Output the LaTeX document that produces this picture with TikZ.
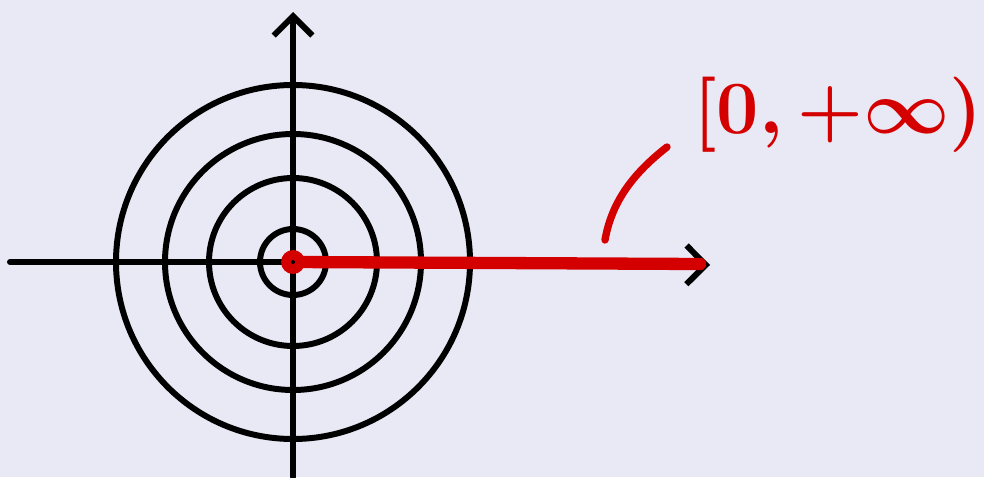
\documentclass[tikz,border=0pt]{standalone}
\usepackage{amsmath,graphicx}
\usetikzlibrary{arrows.meta,positioning,calc}
\definecolor{bg}{HTML}{E9E9F5}
\definecolor{pen}{HTML}{D40000}

\begin{document}
\begin{tikzpicture}[x=0.02cm,y=-0.02cm,line cap=round,line join=round,
  ink/.style={black,line width=3.4pt},
  barb/.style={-{Straight Barb[length=11pt,width=22pt,line width=3.4pt]}},
  redink/.style={pen,line width=4.2pt}]
\fill[bg] (0,0) rectangle (984,477);\useasboundingbox (0,0) rectangle (984,477);
\coordinate (O) at (293,262);\coordinate (xl) at (10,262);\coordinate (xr) at (710,265);
\coordinate (yb) at (293,477);\coordinate (yt) at (293,12);
% rings round the origin
\foreach \r in {33,84,128,177}{\draw[ink] (O) circle[radius=\r];}
\draw[ink] (xl)--(O);\draw[ink,barb] (O)--(xr);
\draw[ink,barb] (yb)--(yt);
% the ray [0,+inf)
\coordinate (re) at (700,264);
\fill[pen] (O) circle[radius=12];
\draw[pen,line width=7pt] (O)--(re);
\fill[black] (O) circle[radius=2];
\node[pen,font=\fontsize{24.88}{30}\selectfont\boldmath] (lbl) at (838,115) {\scalebox{1.72}{$[0,+\infty)$}};
\coordinate (tick) at (605,240);\coordinate (tip) at (667,147);
\draw[redink] (tick) .. controls (612,200) and (635,172) .. (tip);
\end{tikzpicture}
\end{document}
